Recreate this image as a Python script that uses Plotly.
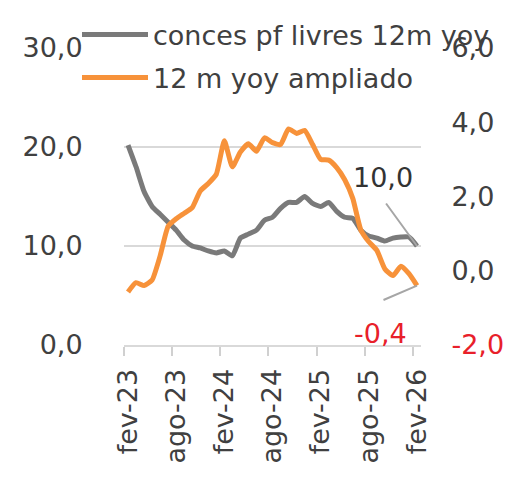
import plotly.graph_objects as go

months = ["fev-23","mar-23","abr-23","mai-23","jun-23","jul-23","ago-23","set-23","out-23","nov-23","dez-23","jan-24",
          "fev-24","mar-24","abr-24","mai-24","jun-24","jul-24","ago-24","set-24","out-24","nov-24","dez-24","jan-25",
          "fev-25","mar-25","abr-25","mai-25","jun-25","jul-25","ago-25","set-25","out-25","nov-25","dez-25","jan-26",
          "fev-26"]

conces_pf = [20.2, 18.0, 15.5, 14.0, 13.2, 12.4, 11.6, 10.6, 10.0, 9.8, 9.5, 9.3,
             9.5, 9.0, 10.8, 11.2, 11.6, 12.6, 12.9, 13.8, 14.4, 14.4, 15.0, 14.3,
             14.0, 14.4, 13.5, 12.9, 12.8, 11.6, 11.0, 10.8, 10.5, 10.8, 10.9, 10.9,
             10.0]

ampliado = [-0.57, -0.32, -0.40, -0.25, 0.40, 1.20, 1.40, 1.55, 1.70, 2.15, 2.35, 2.60,
            3.50, 2.80, 3.20, 3.42, 3.22, 3.58, 3.45, 3.40, 3.82, 3.70, 3.78, 3.40,
            3.00, 2.98, 2.78, 2.45, 1.95, 1.10, 0.78, 0.55, 0.05, -0.13, 0.12, -0.08,
            -0.40]

left_ticks = [0, 10, 20, 30]
left_labels = ["0,0", "10,0", "20,0", "30,0"]
right_ticks = [-2, 0, 2, 4, 6]
right_labels = ['<span style="color:#e8202a">-2,0</span>', "0,0", "2,0", "4,0", "6,0"]

label_idx = list(range(0, len(months), 6))
x = list(range(len(months)))

FONT = "DejaVu Sans"
TXT = "#404040"
GRAY = "#7a7a7a"
ORANGE = "#f7923a"
RED = "#e8202a"

# page body has an 8px default margin, so the figure is 8px smaller than the window
W, H = 508, 470

fig = go.Figure()
fig.add_trace(go.Scatter(x=x, y=conces_pf, name="conces pf livres 12m yoy", mode="lines",
                         line=dict(color=GRAY, width=5, shape="spline", smoothing=0.5),
                         legend="legend", yaxis="y"))
fig.add_trace(go.Scatter(x=x, y=ampliado, name="12 m yoy ampliado", mode="lines",
                         line=dict(color=ORANGE, width=5, shape="spline", smoothing=0.5),
                         legend="legend2", yaxis="y2"))

fig.update_layout(
    template="none",
    width=W, height=H,
    margin=dict(l=116, r=95, t=40, b=133, autoexpand=False),
    paper_bgcolor="white", plot_bgcolor="white",
    font=dict(family=FONT, size=27, color=TXT),
    xaxis=dict(range=[-0.5, len(months) - 0.5], automargin=False,
               tickmode="array", tickvals=[x[i] for i in label_idx],
               ticktext=[months[i] for i in label_idx],
               tickangle=-90, ticks="outside", ticklen=11, tickcolor="rgba(0,0,0,0)",
               showline=True, linecolor="#d9d9d9", linewidth=2,
               showgrid=False, zeroline=False,
               minor=dict(tick0=-0.5, dtick=6,
                          ticks="outside", ticklen=9, tickcolor="#d0d0d0", tickwidth=2,
                          showgrid=False)),
    yaxis=dict(range=[0, 30], automargin=False,
               tickmode="array", tickvals=left_ticks, ticktext=left_labels,
               ticks="outside", ticklen=35, tickcolor="rgba(0,0,0,0)",
               showgrid=True, gridcolor="#d9d9d9", gridwidth=2,
               zeroline=False, showline=False),
    yaxis2=dict(range=[-2, 6], overlaying="y", side="right", automargin=False,
                tickmode="array", tickvals=right_ticks, ticktext=right_labels,
                ticks="outside", ticklen=24, tickcolor="rgba(0,0,0,0)",
                showgrid=False, zeroline=False, showline=False),
    legend=dict(xref="container", yref="container", x=69 / W, y=1 - 27 / H,
                xanchor="left", yanchor="middle", bgcolor="rgba(0,0,0,0)",
                font=dict(family=FONT, size=27, color=TXT), itemwidth=66,
                borderwidth=0),
    legend2=dict(xref="container", yref="container", x=69 / W, y=1 - 70 / H,
                 xanchor="left", yanchor="middle", bgcolor="rgba(0,0,0,0)",
                 font=dict(family=FONT, size=27, color=TXT), itemwidth=66,
                 borderwidth=0),
    showlegend=True,
)

last = len(months) - 1
fig.add_annotation(x=last, y=conces_pf[last], xref="x", yref="y", text="",
                   showarrow=True, arrowhead=0, arrowwidth=2, arrowcolor="#a6a6a6",
                   ax=-32, ay=-44)
fig.add_annotation(x=last, y=conces_pf[last], xref="x", yref="y",
                   text=f"{conces_pf[last]:.1f}".replace(".", ","),
                   showarrow=False, xshift=-34, yshift=69,
                   font=dict(family=FONT, size=27, color="#333333"))
fig.add_annotation(x=last, y=ampliado[last], xref="x", yref="y2", text="",
                   showarrow=True, arrowhead=0, arrowwidth=2, arrowcolor="#a6a6a6",
                   ax=-35, ay=15)
fig.add_annotation(x=last, y=ampliado[last], xref="x", yref="y2",
                   text=f"{ampliado[last]:.1f}".replace(".", ","),
                   showarrow=False, xshift=-36, yshift=-48,
                   font=dict(family=FONT, size=27, color=RED))

fig.write_html("out.html")
